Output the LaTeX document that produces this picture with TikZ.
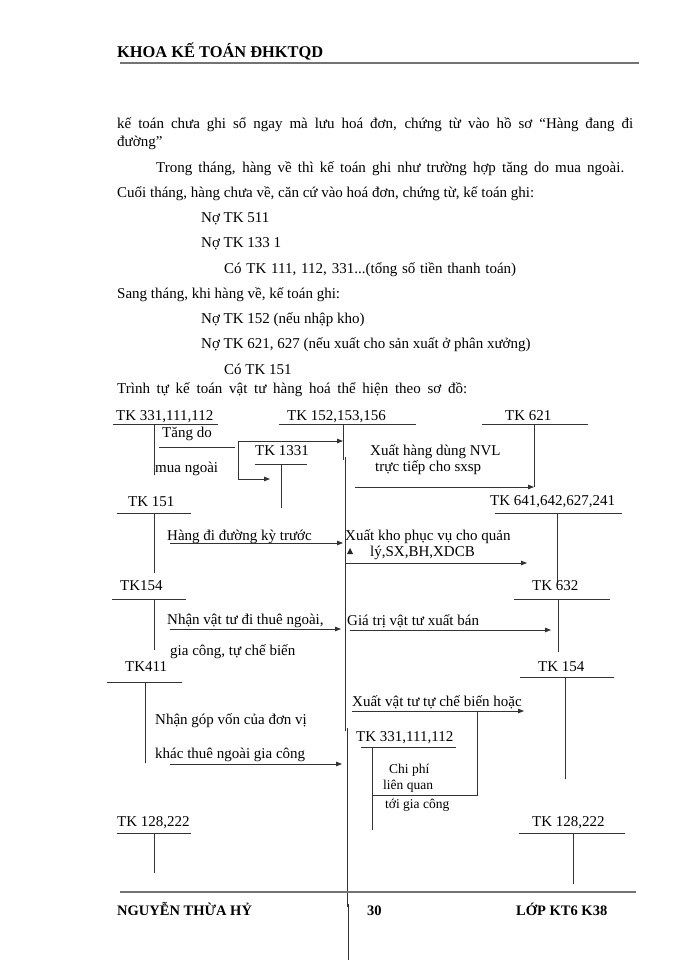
\documentclass[tikz,border=0pt]{standalone}
\usepackage{fontspec}
\setmainfont{Liberation Serif}
\usetikzlibrary{arrows.meta, positioning}

\begin{document}
\begin{tikzpicture}[x=1pt, y=-1pt,
    >={Triangle[length=6pt, width=4.5pt]},
    every node/.style={font=\fontsize{15}{18}\selectfont, inner sep=0pt, anchor=base west},
    head/.style={font=\fontsize{16.4}{18}\selectfont\bfseries},
    foot/.style={font=\fontsize{14.5}{18}\selectfont\bfseries},
    small/.style={font=\fontsize{13.5}{16}\selectfont},
    rule/.style={draw=black!80, line width=0.8pt},
    page/.style={draw=black!55, line width=1.6pt},
    flow/.style={rule, ->},
]
  \useasboundingbox[fill=white] (0,0) rectangle (700,960);

  % page header
  \node[head] (faculty) at (117,58) {KHOA KẾ TOÁN ĐHKTQD};
  \draw[page] (120,63) -- (639,63);

  % running text
  \node (par1) at (117,129) {\makebox[516pt][s]{kế toán chưa ghi sổ ngay mà lưu hoá đơn, chứng từ vào hồ sơ “Hàng đang đi}};
  \node (par2) at (117,147) {đường”};
  \node (par3) at (156,172) {\makebox[468pt][s]{Trong tháng, hàng về thì kế toán ghi như trường hợp tăng do mua ngoài.}};
  \node (par4) at (117,197) {Cuối tháng, hàng chưa về, căn cứ vào hoá đơn, chứng từ, kế toán ghi:};
  \node (no511) at (201,222) {Nợ TK 511};
  \node (no1331) at (201,247) {Nợ TK 133 1};
  \node (co111) at (224,273) {\makebox[292pt][s]{Có TK 111, 112, 331...(tổng số tiền thanh toán)}};
  \node (par5) at (117,298) {Sang tháng, khi hàng về, kế toán ghi:};
  \node (no152) at (201,323) {Nợ TK 152 (nếu nhập kho)};
  \node (no621) at (201,348) {Nợ TK 621, 627 (nếu xuất cho sản xuất ở phân xưởng)};
  \node (co151) at (224,374) {Có TK 151};
  \node (par6) at (117,393) {\makebox[350pt][s]{Trình tự kế toán vật tư hàng hoá thể hiện theo sơ đồ:}};

  % T accounts: label, rule, stem
  \node (tk331) at (116,420) {TK 331,111,112};
  \draw[rule] (113,424) -- (218,424) (154,424) -- (154,475);
  \node (tk152) at (287,420) {TK 152,153,156};
  \draw[rule] (279,424) -- (416,424);
  \draw[rule] (343,424) -- (343,460) (345,457) -- (345,731)
              (347,728) -- (347,907) (348.5,904) -- (348.5,960);
  \node (tk621) at (505,420) {TK 621};
  \draw[rule] (482,424) -- (588,424) (534,424) -- (534,487);
  \node (tk1331) at (255,455) {TK 1331};
  \draw[rule] (255,464) -- (307,464) (281,464) -- (281,508);
  \node (tk151) at (128,506) {TK 151};
  \draw[rule] (117,513) -- (191,513) (154,513) -- (154,573);
  \node (tk641) at (490,505) {TK 641,642,627,241};
  \draw[rule] (495,513) -- (622,513) (557,513) -- (557,582);
  \node (tk154a) at (120,590) {TK154};
  \draw[rule] (112,599) -- (186,599) (154,599) -- (154,650);
  \node (tk632) at (532,590) {TK 632};
  \draw[rule] (514,599) -- (610,599) (558,599) -- (558,652);
  \node (tk411) at (125,671) {TK411};
  \draw[rule] (107,682) -- (182,682) (145,682) -- (145,763);
  \node (tk154b) at (538,671) {TK 154};
  \draw[rule] (520,677) -- (614,677) (565,677) -- (565,779);
  \node (tk331b) at (356,741) {TK 331,111,112};
  \draw[rule] (361,747) -- (456,747) (372,747) -- (372,830);
  \node (tk128a) at (117,826) {TK 128,222};
  \draw[rule] (117,833) -- (191,833) (154,833) -- (154,873);
  \node (tk128b) at (532,826) {TK 128,222};
  \draw[rule] (519,833) -- (625,833) (573,833) -- (573,884);

  % flows
  \node (buyin) at (162,437) {Tăng do};
  \node (buyin2) at (155,472) {mua ngoài};
  \coordinate (splitTop) at (238,441);
  \coordinate (splitBot) at (238,479);
  \coordinate (in152) at (343,441);
  \coordinate (in1331) at (270,479);
  \draw[rule] (159,447) -- (235,447);
  \draw[rule] (splitTop) -- (splitBot);
  \draw[flow] (splitTop) -- (in152);
  \draw[flow] (splitBot) -- (in1331);

  \node (nvl) at (370,455) {Xuất hàng dùng NVL};
  \node (nvl2) at (375,471) {trực tiếp cho sxsp};
  \coordinate (out621) at (355,487);
  \coordinate (in621) at (534,487);
  \draw[flow] (out621) -- (in621);

  \node (transit) at (167,540) {Hàng đi đường kỳ trước};
  \coordinate (out151) at (170,543);
  \coordinate (in152b) at (343,543);
  \draw[flow] (out151) -- (in152b);

  \node (serve) at (345,540) {Xuất kho phục vụ cho quản};
  \node (serve2) at (370,556) {lý,SX,BH,XDCB};
  \fill[black!85] (347,554) -- (353,554) -- (350,548) -- cycle;
  \coordinate (out641) at (345,563);
  \coordinate (in641) at (527,563);
  \draw[flow] (out641) -- (in641);

  \node (hire) at (167,624) {Nhận vật tư đi thuê ngoài,};
  \node (hire2) at (170,655) {gia công, tự chế biến};
  \coordinate (out154) at (170,629);
  \coordinate (in152c) at (341,629);
  \draw[flow] (out154) -- (in152c);

  \node (sale) at (347,625) {Giá trị vật tư xuất bán};
  \coordinate (out632) at (350,630);
  \coordinate (in632) at (551,630);
  \draw[flow] (out632) -- (in632);

  \node (capital) at (155,724) {Nhận góp vốn của đơn vị};
  \node (capital2) at (155,758) {khác thuê ngoài gia công};
  \coordinate (out411) at (170,764);
  \coordinate (in152d) at (342,764);
  \draw[flow] (out411) -- (in152d);

  \node (process) at (352,706) {Xuất vật tư tự chế biến hoặc};
  \coordinate (out154b) at (352,711);
  \coordinate (in154b) at (524,711);
  \coordinate (costTop) at (477,711);
  \coordinate (costBot) at (477,795);
  \coordinate (costEnd) at (372,795);
  \draw[flow] (out154b) -- (in154b);
  \draw[rule] (costTop) -- (costBot) -- (costEnd);
  \node[small] (cost) at (389,773) {Chi phí};
  \node[small] (cost2) at (383,789) {liên quan};
  \node[small] (cost3) at (385,808) {tới gia công};

  % page footer
  \draw[page] (120,892) -- (636,892);
  \node[foot] (author) at (117,915) {NGUYỄN THỪA HỶ};
  \node[foot] (pageno) at (367,915) {30};
  \node[foot] (classname) at (516,915) {LỚP KT6 K38};
\end{tikzpicture}
\end{document}
